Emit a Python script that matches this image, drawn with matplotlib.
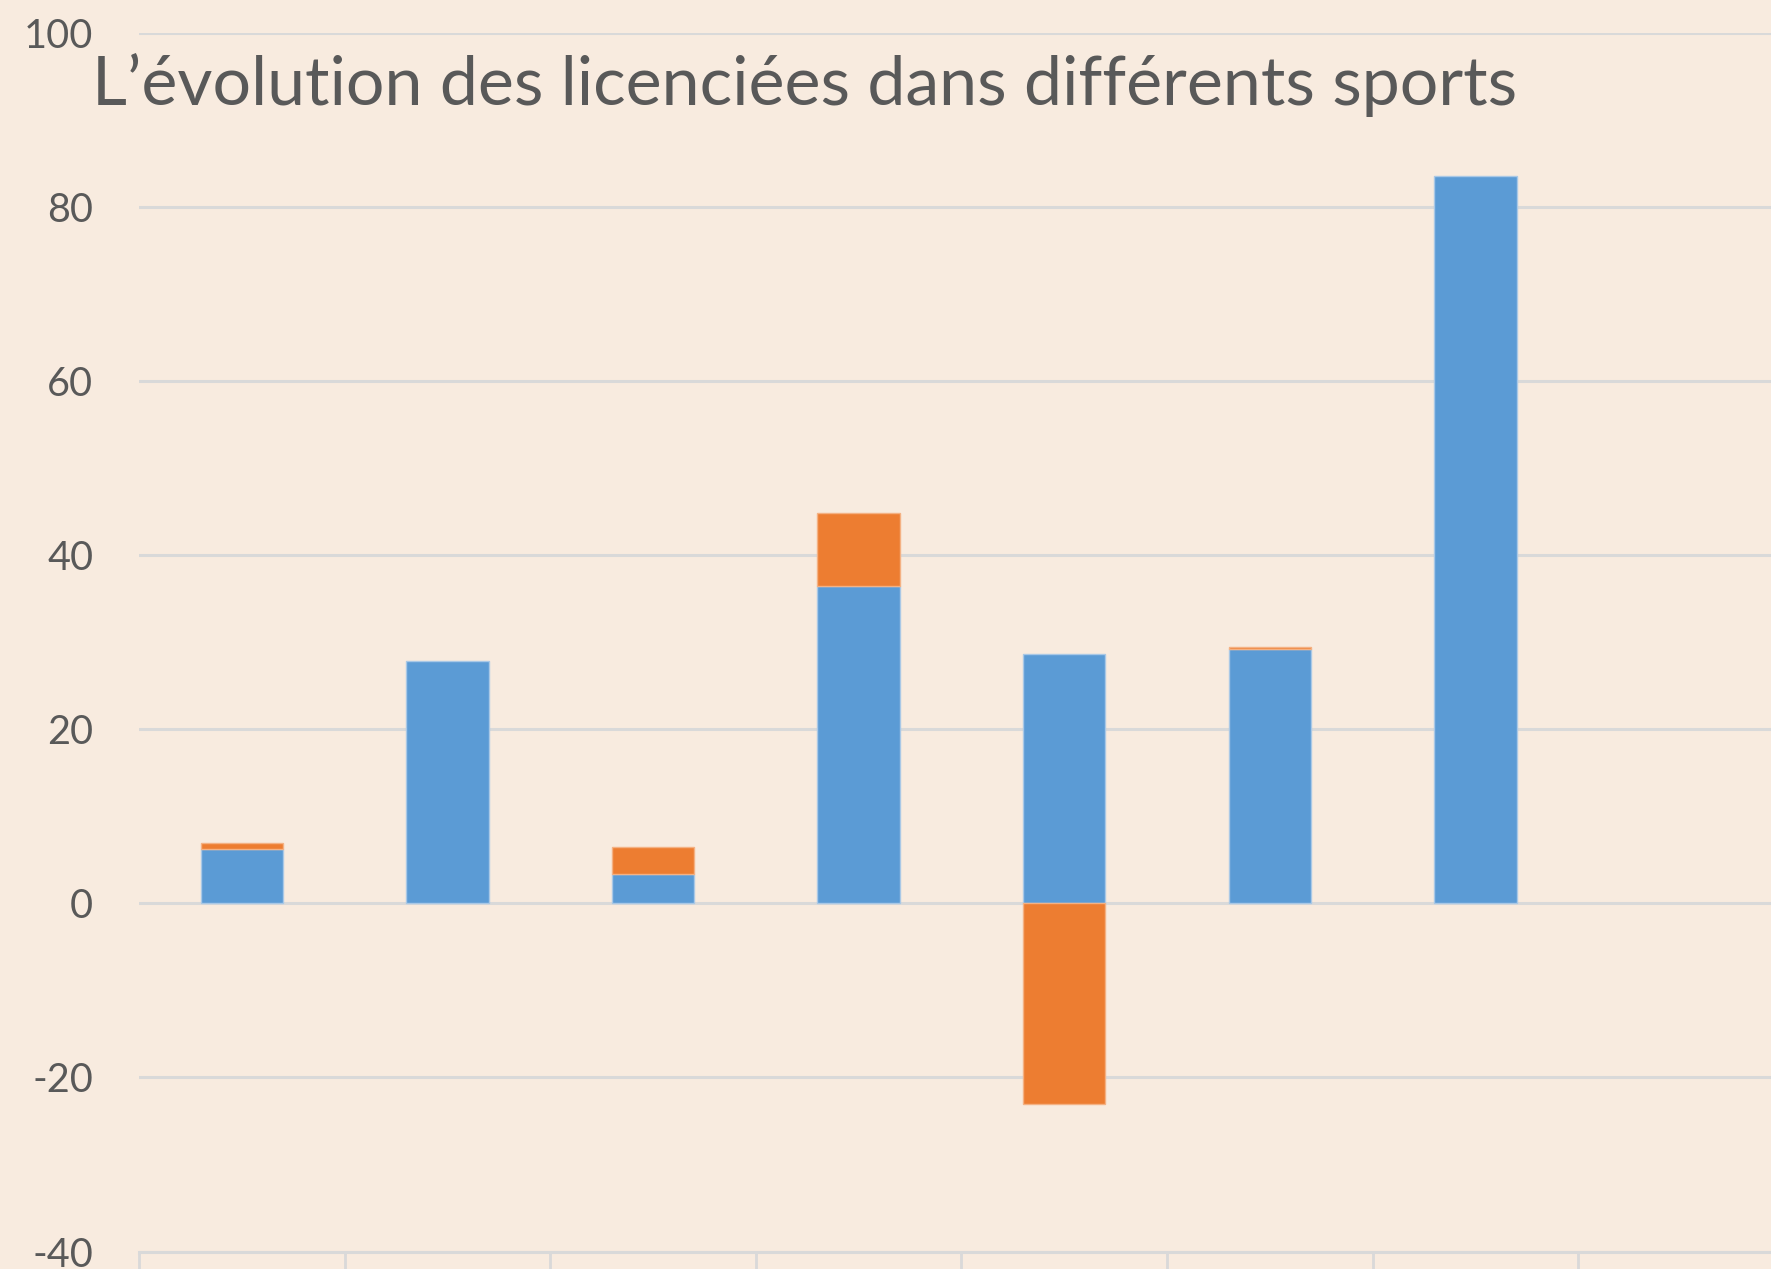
import numpy as np
import matplotlib.pyplot as plt

# values (8 category slots, last one empty)
blue_vals = [6.25, 27.8, 3.4, 36.4, 28.7, 29.2, 83.6, np.nan]
orange_vals = [0.7, 0.0, 3.1, 8.4, -23.0, 0.2, 0.0, np.nan]
yticks = [-40, -20, 0, 20, 40, 60, 80, 100]
title = "L\u2019évolution des licenciées dans différents sports"

BG = '#F8EBDF'
BLUE = '#5B9BD5'
ORANGE = '#ED7D31'
GRID = '#D9D9D9'
TXT = '#595959'

plt.rcParams['font.family'] = ['Lato', 'DejaVu Sans']

W, H = 1771, 1269
fig = plt.figure(figsize=(W / 100, H / 100), dpi=100, facecolor=BG)
# plot area runs past the right edge, like the cropped original
left, right = 139, 139 + 8 * 205.6
bottom, top = 1251.6, 32.8
ax = fig.add_axes([left / W, 1 - bottom / H, (right - left) / W, (bottom - top) / H])
ax.set_facecolor(BG)

x = np.arange(len(blue_vals))
blue = np.array(blue_vals)
orange = np.array(orange_vals)
orange_bottom = np.where(orange >= 0, blue, 0)
orange_drawn = np.where(orange == 0, np.nan, orange)  # no sliver for empty segments

ax.bar(x, blue, width=0.4, color=BLUE, edgecolor='#A9C8E6', linewidth=1, zorder=3)
ax.bar(x, orange_drawn, bottom=orange_bottom, width=0.4, color=ORANGE,
       edgecolor='#F4B183', linewidth=1, zorder=3)

ax.set_xlim(-0.5, len(x) - 0.5)
ax.set_ylim(-40, 100)
ax.set_yticks(yticks)
ax.set_yticklabels([str(v) for v in yticks])
ax.yaxis.grid(True, color=GRID, linewidth=2.2, zorder=0)
ax.tick_params(axis='y', length=0, pad=33, labelsize=28.5, labelcolor=TXT)

# category separators below the axis line
ax.set_xticks(np.arange(-0.5, len(x) + 0.5, 1))
ax.set_xticklabels([])
ax.tick_params(axis='x', length=30, width=2, color=GRID)

for s in ['top', 'right', 'left']:
    ax.spines[s].set_visible(False)
ax.spines['bottom'].set_color(GRID)
ax.spines['bottom'].set_linewidth(2.2)

fig.text(92 / W, 1 - 105 / H, title, fontsize=49, color=TXT, ha='left', va='baseline')

fig.savefig('out.png', dpi=100, facecolor=BG)
